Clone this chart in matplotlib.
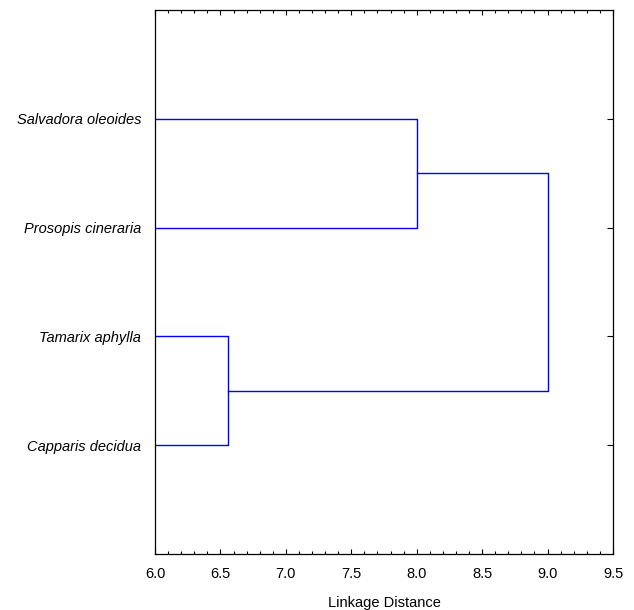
import matplotlib
matplotlib.use("Agg")
import matplotlib.pyplot as plt
from matplotlib.ticker import MultipleLocator

plt.rcParams['font.family'] = ['Liberation Sans', 'DejaVu Sans']

# leaves from bottom to top
species = ['Capparis decidua', 'Tamarix aphylla', 'Prosopis cineraria', 'Salvadora oleoides']
# clusters: (left child, right child, linkage distance); children are leaf index or 'cN'
merges = [
    (0, 1, 6.56),
    (2, 3, 8.0),
    ('c0', 'c1', 9.0),
]
x_ticks = [6.0, 6.5, 7.0, 7.5, 8.0, 8.5, 9.0, 9.5]

fig = plt.figure(figsize=(6.34, 6.10), dpi=100)
ax = fig.add_axes([155/634, 56/610, 458/634, 544/610])

base = 6.0
pos = {}
hgt = {}
for i, name in enumerate(species):
    pos[i] = i + 1
    hgt[i] = base

for k, (a, b, d) in enumerate(merges):
    ya, yb = pos[a], pos[b]
    ax.plot([hgt[a], d, d, hgt[b]], [ya, ya, yb, yb], color='#0000ff', lw=1.0)
    pos['c%d' % k] = (ya + yb) / 2
    hgt['c%d' % k] = d

ax.set_xlim(6.0, 9.5)
ax.set_ylim(0, len(species) + 1)
ax.set_xticks(x_ticks)
ax.set_xticklabels(['%.1f' % v for v in x_ticks])
ax.xaxis.set_minor_locator(MultipleLocator(0.1))
ax.set_yticks(range(1, len(species) + 1))
ax.set_yticklabels(species, fontstyle='italic')

ax.tick_params(axis='x', which='both', direction='in', top=True, bottom=True,
               labelsize=10.5, pad=9)
ax.tick_params(axis='x', which='major', length=3.5, width=0.8)
ax.tick_params(axis='x', which='minor', length=2.2, width=0.8)
ax.tick_params(axis='y', direction='in', left=False, right=True, labelleft=True,
               length=4, width=0.8, labelsize=10.5, pad=10)
for s in ax.spines.values():
    s.set_linewidth(0.9)

ax.set_xlabel('Linkage Distance', fontsize=10.5, labelpad=11)

fig.savefig('out.png', dpi=100)
